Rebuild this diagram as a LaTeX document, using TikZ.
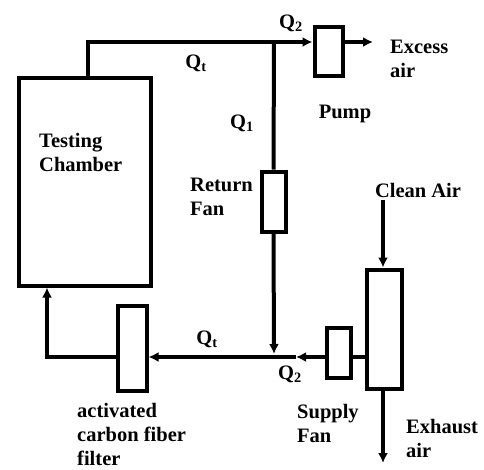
\documentclass[tikz,border=0pt]{standalone}
\usepackage{fontspec}
\setmainfont{Liberation Serif}
\usetikzlibrary{arrows.meta,calc}
\begin{document}
\begin{tikzpicture}[x=1pt,y=-1pt,
  box/.style={draw,line width=4pt,rectangle,inner sep=0pt},
  pipe/.style={line width=4pt},
  flow/.style={pipe,-{Latex[length=10pt,width=10pt]}},
  lbl/.style={font=\fontsize{20.5}{24}\selectfont\bfseries,inner sep=0pt,align=left},
  ]
\useasboundingbox (0,0) rectangle (484,469);
% boxes
\node[box,minimum width=132pt,minimum height=208pt] (chamber) at (84.5,181.5) {};
\node[box,minimum width=28pt,minimum height=49pt] (pump) at (328.5,51.5) {};
\node[box,minimum width=24pt,minimum height=60pt] (returnfan) at (273.5,201.5) {};
\node[box,minimum width=24pt,minimum height=50pt] (supplyfan) at (338.5,352.5) {};
\node[box,minimum width=35pt,minimum height=119pt] (mixer) at (384,329) {};
\node[box,minimum width=29pt,minimum height=85pt] (filter) at (132,348) {};
% coordinates
\coordinate (c1) at (88,0);
\coordinate (j1) at (274,42);
\coordinate (j2) at (274,357);
\coordinate (a1) at (296,357);
\coordinate (c2) at (47,0);
\coordinate (excess) at (373,42);
\coordinate (clean) at (383,200);
\coordinate (exhaust) at (383,463);
% connectors
\draw[flow] (chamber.north -| c1) |- (pump.west |- j1);
\draw[pipe] (j1) -- (returnfan.north);
\draw[flow] (returnfan.south) -- ($(j2)+(0,-3)$);
\draw[flow] (supplyfan.west |- j2) -- (a1);
\draw[flow] (a1) -- (filter.east |- j2);
\draw[pipe] (mixer.west |- j2) -- (supplyfan.east |- j2);
\draw[flow] (filter.west |- j2) -| (chamber.south -| c2);
\draw[flow] (pump.east |- j1) -- (excess);
\draw[flow] (clean) -- (mixer.north -| clean);
\draw[flow] (mixer.south -| exhaust) -- (exhaust);
% labels
\node[lbl,anchor=base] (lq2a) at (291,28) {Q\textsubscript{2}};
\node[lbl,anchor=base] (lqta) at (196,68) {Q\textsubscript{t}};
\node[lbl,anchor=base] (lq1) at (242,128) {Q\textsubscript{1}};
\node[lbl,anchor=base west] (lexcess) at (390,77) {Excess\\air};
\node[lbl,anchor=base] (lpump) at (345,118) {Pump};
\node[lbl,anchor=base west] (ltest) at (39,171) {Testing\\Chamber};
\node[lbl,anchor=base west] (lret) at (190,215) {Return\\Fan};
\node[lbl,anchor=base] (lclean) at (418,197) {Clean Air};
\node[lbl,anchor=base] (lqtb) at (207,344) {Q\textsubscript{t}};
\node[lbl,anchor=base] (lq2b) at (290,379) {Q\textsubscript{2}};
\node[lbl,anchor=base west] (lsup) at (297,442) {Supply\\Fan};
\node[lbl,anchor=base west] (lexh) at (406,457) {Exhaust\\air};
\node[lbl,anchor=base west] (lfil) at (77,465) {activated\\carbon fiber\\filter};
\end{tikzpicture}
\end{document}
